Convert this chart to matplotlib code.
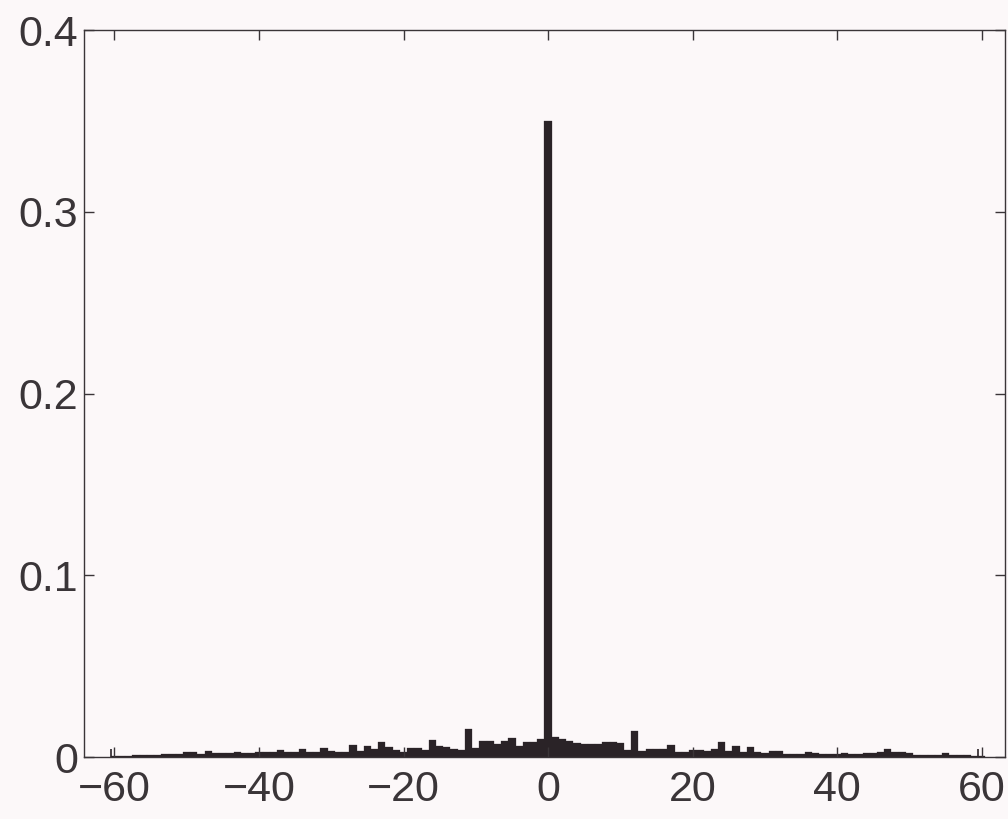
import numpy as np
import matplotlib
matplotlib.use("Agg")
import matplotlib.pyplot as plt

# bin centres (integers) and relative frequencies
bins = list(range(-60, 61))
freq = [
    0.0003, 0.0005, 0.0008, 0.0010, 0.0010, 0.0012, 0.0010, 0.0015, 0.0015, 0.0016,  # -60..-51
    0.0028, 0.0026, 0.0018, 0.0033, 0.0020, 0.0020, 0.0022, 0.0030, 0.0020, 0.0022,  # -50..-41
    0.0025, 0.0028, 0.0025, 0.0038, 0.0025, 0.0028, 0.0042, 0.0025, 0.0025, 0.0052,  # -40..-31
    0.0035, 0.0028, 0.0028, 0.0068, 0.0032, 0.0058, 0.0042, 0.0082, 0.0055, 0.0040,  # -30..-21
    0.0030, 0.0048, 0.0048, 0.0036, 0.0095, 0.0060, 0.0053, 0.0045, 0.0036, 0.0155,  # -20..-11
    0.0050, 0.0090, 0.0090, 0.0072, 0.0088, 0.0105, 0.0060, 0.0084, 0.0084, 0.0100,  # -10..-1
    0.3500,                                                                          # 0
    0.0112, 0.0098, 0.0090, 0.0078, 0.0070, 0.0070, 0.0070, 0.0082, 0.0082, 0.0078,  # 1..10
    0.0040, 0.0142, 0.0035, 0.0046, 0.0046, 0.0046, 0.0068, 0.0030, 0.0030, 0.0040,  # 11..20
    0.0040, 0.0035, 0.0046, 0.0080, 0.0035, 0.0062, 0.0030, 0.0055, 0.0030, 0.0020,  # 21..30
    0.0032, 0.0035, 0.0018, 0.0015, 0.0018, 0.0028, 0.0020, 0.0018, 0.0015, 0.0018,  # 31..40
    0.0020, 0.0015, 0.0018, 0.0020, 0.0020, 0.0025, 0.0042, 0.0028, 0.0028, 0.0020,  # 41..50
    0.0010, 0.0010, 0.0010, 0.0012, 0.0022, 0.0010, 0.0010, 0.0010, 0.0008, 0.0005,  # 51..60
]

# thin end spikes
spike_x = [-60.5, 59.5]
spike_h = [0.0045, 0.0042]

xticks = [-60, -40, -20, 0, 20, 40, 60]
yticks = [0, 0.1, 0.2, 0.3, 0.4]
yticklabels = ["0", "0.1", "0.2", "0.3", "0.4"]

bg = "#fcf8f9"
barc = "#2a2327"
axc = "#3a3538"

plt.rcParams["font.family"] = ["Liberation Sans", "DejaVu Sans"]

fig = plt.figure(figsize=(10.08, 8.19), dpi=100, facecolor=bg)
ax = fig.add_axes([0.0833, 0.0757, 0.9137, 0.8873], facecolor=bg)

ax.bar(bins, freq, width=1.0, color=barc, edgecolor=barc, linewidth=0.2)
ax.vlines(spike_x, 0, spike_h, color=barc, linewidth=1.2)

ax.set_xlim(-64.2, 63.2)
ax.set_ylim(0, 0.4)
ax.set_xticks(xticks)
ax.set_yticks(yticks)
ax.set_yticklabels(yticklabels)

ax.tick_params(direction="in", length=7, width=1, colors=axc, labelcolor="#3a3538",
               labelsize=31, top=True, right=True)
ax.tick_params(axis="x", pad=9)
ax.tick_params(axis="y", pad=4)
for s in ax.spines.values():
    s.set_color(axc)
    s.set_linewidth(1.0)

fig.savefig("out.png", dpi=100, facecolor=bg)
